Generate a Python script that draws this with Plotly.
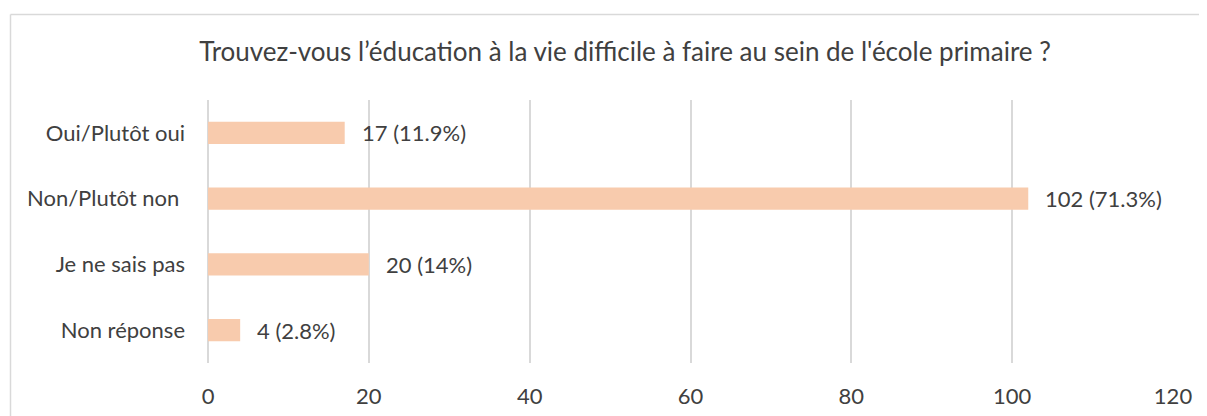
import plotly.graph_objects as go

categories = ["Oui/Plutôt oui", "Non/Plutôt non ", "Je ne sais pas", "Non réponse"]
counts = [17, 102, 20, 4]
percents = ["11.9%", "71.3%", "14%", "2.8%"]
title_text = "Trouvez-vous l’éducation à la vie difficile à faire au sein de l'école primaire ?"
x_ticks = [0, 20, 40, 60, 80, 100, 120]

# page body has an 8px margin, so the figure is drawn 8px smaller and offset
OFF = 8
W, H = 1207 - OFF, 416 - OFF
L, R, T, B = 208 - OFF, 34, 100 - OFF, 53
FONT = "Lato, 'Liberation Sans', sans-serif"
TXT = "#404040"
GRID = "#D9D9D9"

fig = go.Figure()
fig.add_trace(go.Bar(
    y=categories, x=counts, orientation="h",
    marker=dict(color="#F8CBAD", line=dict(width=0)),
    width=0.34, hoverinfo="skip",
))

for c, v, p in zip(categories, counts, percents):
    fig.add_annotation(x=v, y=c, xref="x", yref="y", text=f"{v} ({p})",
                       showarrow=False, xanchor="left", xshift=15,
                       font=dict(family=FONT, size=22, color=TXT))

pw = W - L - R
ph = H - T - B
def px2x(px):
    return (px - OFF - L) / pw
def px2y(py):
    return (H - B - (py - OFF)) / ph

border = dict(color="#D9D9D9", width=1.5)
fig.add_shape(type="line", xref="paper", yref="paper",
              x0=px2x(10.5), x1=px2x(1207), y0=px2y(14.5), y1=px2y(14.5), line=border)
fig.add_shape(type="line", xref="paper", yref="paper",
              x0=px2x(10.5), x1=px2x(10.5), y0=px2y(14.5), y1=px2y(416), line=border)

fig.update_layout(
    width=W, height=H,
    margin=dict(l=L, r=R, t=T, b=B, autoexpand=False),
    paper_bgcolor="white", plot_bgcolor="white",
    showlegend=False,
    title=dict(text=title_text, x=(625 - OFF) / W, xanchor="center", xref="container",
               y=1 - (52 - OFF) / H, yanchor="middle", yref="container",
               font=dict(family=FONT, size=26, color=TXT)),
    xaxis=dict(range=[0, 120], tickvals=x_ticks, showgrid=True, gridcolor=GRID,
               gridwidth=1.5, zeroline=True, zerolinecolor=GRID, zerolinewidth=1.5,
               showline=False, ticks="", ticklabelstandoff=18,
               tickfont=dict(family=FONT, size=22, color=TXT), fixedrange=True),
    yaxis=dict(categoryorder="array", categoryarray=categories, autorange="reversed",
               showgrid=False, zeroline=False, showline=False, ticks="",
               ticklabelstandoff=22,
               tickfont=dict(family=FONT, size=22, color=TXT), fixedrange=True),
)

fig.write_html("out.html")
